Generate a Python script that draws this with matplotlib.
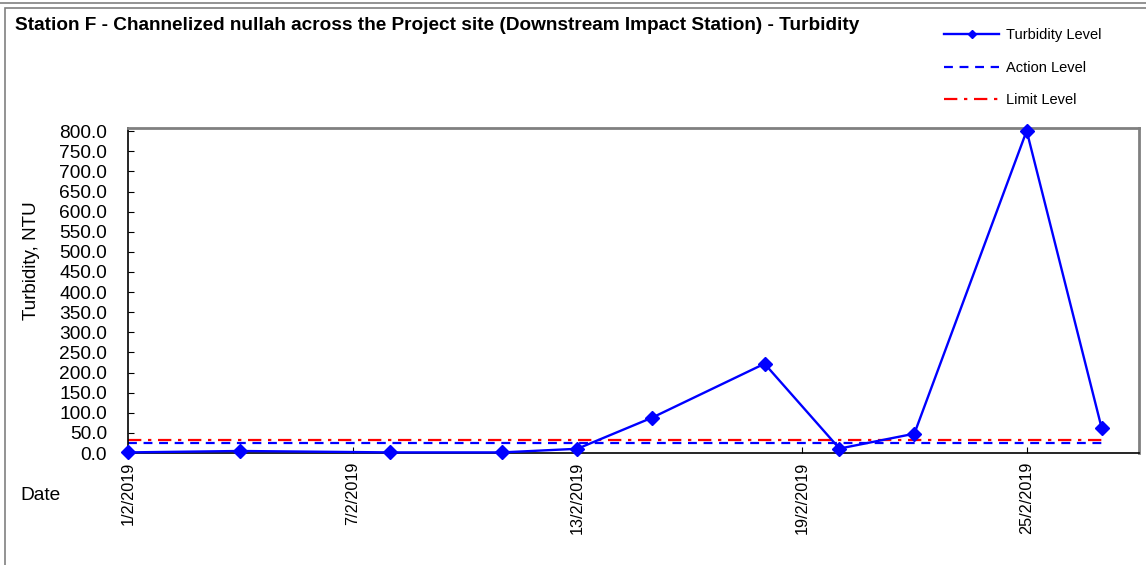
import matplotlib
matplotlib.use("Agg")
import matplotlib.pyplot as plt
from matplotlib.patches import Rectangle
from matplotlib.lines import Line2D
import numpy as np
import datetime as dt

plt.rcParams['font.family'] = ['Liberation Sans', 'DejaVu Sans']

# ---- data ----
dates = ["2019-02-01", "2019-02-04", "2019-02-08", "2019-02-11", "2019-02-13",
         "2019-02-15", "2019-02-18", "2019-02-20", "2019-02-22", "2019-02-25",
         "2019-02-27"]
turbidity = [1.5, 5.0, 1.5, 1.5, 10.5, 88.0, 222.0, 11.0, 48.0, 801.0, 63.0]
action_level = 24.0
limit_level = 33.3
tick_dates = ["2019-02-01", "2019-02-07", "2019-02-13", "2019-02-19", "2019-02-25"]
tick_labels = ["1/2/2019", "7/2/2019", "13/2/2019", "19/2/2019", "25/2/2019"]
title = "Station F - Channelized nullah across the Project site (Downstream Impact Station) - Turbidity"

x = [dt.datetime.strptime(d, "%Y-%m-%d") for d in dates]
xt = [dt.datetime.strptime(d, "%Y-%m-%d") for d in tick_dates]

W, H = 1146, 565
fig = plt.figure(figsize=(W / 100, H / 100), dpi=100)

# outer frame
fig.add_artist(Line2D([0, 1], [1 - 3 / H, 1 - 3 / H], transform=fig.transFigure,
                      color="#808080", lw=1.2))
fig.add_artist(Rectangle((5 / W, -0.05), 1.2, 1 - 8 / H + 0.05, transform=fig.transFigure,
                         fill=False, edgecolor="#808080", lw=1.2))

ax = fig.add_axes([128 / W, (H - 453) / H, (1139 - 128) / W, (453 - 128) / H])

ax.plot(x, [action_level] * len(x), color="#0000ff", ls=(0, (4, 3)), lw=1.6,
        label="Action Level", zorder=2)
ax.plot(x, [limit_level] * len(x), color="#ff0000", ls=(0, (6, 3, 1.5, 3)), lw=1.6,
        label="Limit Level", zorder=2)
ax.plot(x, turbidity, color="#0000ff", lw=1.7, marker="D", markersize=7.5,
        label="Turbidity Level", zorder=3, clip_on=False)

ax.set_xlim(dt.datetime(2019, 2, 1), dt.datetime(2019, 2, 28))
ax.set_ylim(0, 808)
ax.set_yticks(np.arange(0, 801, 50))
ax.set_yticklabels([f"{v:.1f}" for v in np.arange(0, 801, 50)])
ax.set_xticks(xt)
ax.set_xticklabels(tick_labels, rotation=90)
ax.tick_params(axis="both", direction="in", length=4, color="black")
ax.tick_params(axis="x", pad=6.5, labelsize=11.7)
ax.tick_params(axis="y", pad=15, labelsize=13.8)

for s in ["left", "bottom"]:
    ax.spines[s].set_color("black")
    ax.spines[s].set_linewidth(1.2)
for s in ["top", "right"]:
    ax.spines[s].set_color("#808080")
    ax.spines[s].set_linewidth(2)

fig.text(31 / W, 1 - 261 / H, "Turbidity, NTU", fontsize=13.6, rotation=90,
         va="center", ha="center")
fig.text(20 / W, 1 - 495 / H, "Date", fontsize=13.8, va="center", ha="left")
fig.text(15 / W, 1 - 25 / H, title, fontsize=13.7, fontweight="bold", va="center", ha="left")

h, l = ax.get_legend_handles_labels()
order = [2, 0, 1]
leg = fig.legend([h[i] for i in order], [l[i] for i in order], loc="upper left",
                 bbox_to_anchor=(931 / W, 1 - 15 / H), frameon=False, fontsize=10.5,
                 handlelength=3.77, labelspacing=1.28, handletextpad=0.5, markerscale=0.55)

fig.savefig("out.png", dpi=100)
